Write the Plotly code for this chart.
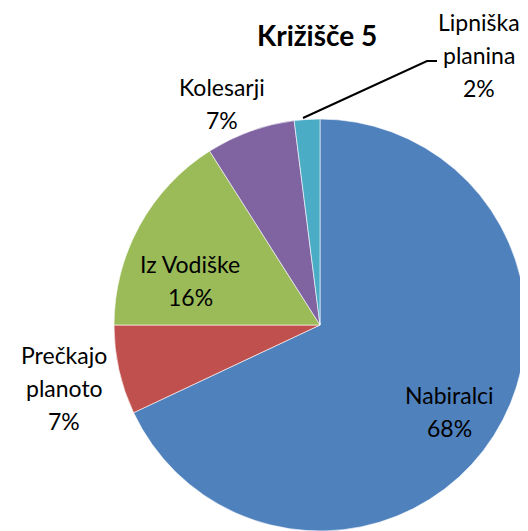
import plotly.graph_objects as go

# Data
labels = ["Nabiralci", "Prečkajo planoto", "Iz Vodiške", "Kolesarji", "Lipniška planina"]
values = [68, 7, 16, 7, 2]
colors = ["#4F81BD", "#C0504D", "#9BBB59", "#8064A2", "#4BACC6"]
title_text = "Križišče 5"

# Label line breaking (as in the reference) and label centre positions (screen px)
label_lines = {
    "Nabiralci": ["Nabiralci"],
    "Prečkajo planoto": ["Prečkajo", "planoto"],
    "Iz Vodiške": ["Iz Vodiške"],
    "Kolesarji": ["Kolesarji"],
    "Lipniška planina": ["Lipniška", "planina"],
}
label_pos = {
    "Nabiralci": (449, 395),
    "Prečkajo planoto": (64, 355),
    "Iz Vodiške": (190, 264),
    "Kolesarji": (222, 87),
    "Lipniška planina": (479, 22),
}

OFF = 8  # page body margin
W, H = 528 - OFF, 531 - OFF
FONT = "Lato"
LINE = 33


def px(x):
    return (x - OFF) / W


def py(y):
    return 1 - (y - OFF) / H


fig = go.Figure()
fig.add_trace(go.Pie(
    labels=labels, values=values, sort=False, direction="clockwise", rotation=0,
    marker=dict(colors=colors, line=dict(color="white", width=0.6)),
    textinfo="none", hoverinfo="label+percent", showlegend=False,
    domain=dict(x=[px(114), px(526)], y=[0, py(119)]),
))

total = sum(values)
annotations = []
for lab, val in zip(labels, values):
    lines = label_lines[lab] + [f"{round(100 * val / total)}%"]
    x0, y0 = label_pos[lab]
    for i, t in enumerate(lines):
        annotations.append(dict(
            x=px(x0), y=py(y0 + i * LINE), xref="paper", yref="paper",
            text=t, showarrow=False, xanchor="center", yanchor="middle",
            font=dict(family=FONT, size=23, color="black"),
        ))
annotations.append(dict(
    x=px(317), y=py(35), xref="paper", yref="paper", text=f"<b>{title_text}</b>",
    showarrow=False, xanchor="center", yanchor="middle",
    font=dict(family=FONT, size=28, color="black"),
))

# Leader line for the small slice
fig.add_shape(type="path",
              path=f"M {px(303)} {py(118)} L {px(427)} {py(61)} L {px(437)} {py(61)}",
              xref="paper", yref="paper", line=dict(color="black", width=2))

fig.update_layout(
    width=W, height=H, margin=dict(l=0, r=0, t=0, b=0),
    paper_bgcolor="white", plot_bgcolor="white",
    annotations=annotations,
)
fig.write_html("out.html")
